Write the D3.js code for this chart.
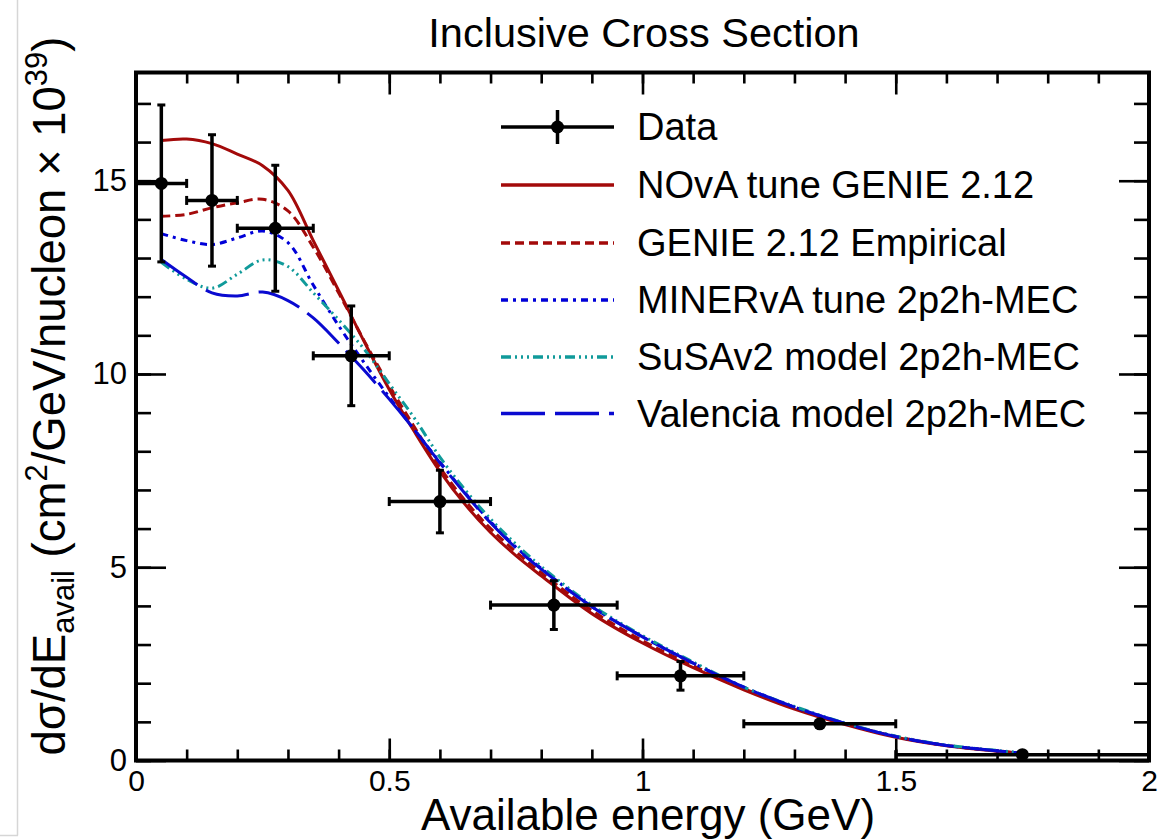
<!DOCTYPE html>
<html><head><meta charset="utf-8">
<script src="https://cdn.jsdelivr.net/npm/d3@7"></script>
<style>
body{margin:0;background:#fff}
svg{display:block}
text{font-family:"Liberation Sans",Arial,Helvetica,sans-serif;fill:#000}
</style>
</head><body>
<svg id="c" width="1173" height="839"></svg>
<script>
// ---------------- data ----------------
const binLow  = [0, 0.1, 0.2, 0.35, 0.5, 0.7, 0.95, 1.2, 1.5];
const binHigh = [0.1, 0.2, 0.35, 0.5, 0.7, 0.95, 1.2, 1.5, 2.0];
const dataX   = [0.05, 0.15, 0.275, 0.425, 0.6, 0.825, 1.075, 1.35, 1.75];
const dataY   = [14.93, 14.49, 13.77, 10.47, 6.70, 4.02, 2.19, 0.95, 0.15];
const dataErr = [2.03, 1.70, 1.63, 1.29, 0.81, 0.63, 0.37, 0.10, 0.03];

const curveX = [0.05,0.1,0.15,0.2,0.25,0.3,0.35,0.4,0.45,0.5,0.55,0.6,0.65,0.7,0.75,0.8,0.9,1.0,1.1,1.2,1.3,1.4,1.5,1.6,1.75];
const novaTune    = [16.04,16.08,15.96,15.69,15.39,14.75,13.45,12.16,10.85,9.6,8.5,7.48,6.62,5.9,5.3,4.78,3.8,3.04,2.4,1.83,1.33,0.93,0.6,0.38,0.18];
const genieEmp    = [14.08,14.13,14.3,14.43,14.52,14.22,13.28,12.1,10.87,9.7,8.62,7.58,6.72,6.0,5.4,4.86,3.88,3.1,2.45,1.86,1.36,0.95,0.62,0.39,0.19];
const minervaTune = [13.63,13.45,13.35,13.52,13.7,13.4,12.3,11.25,10.3,9.4,8.55,7.72,6.92,6.18,5.52,4.97,3.98,3.2,2.52,1.9,1.38,0.96,0.62,0.39,0.19];
const susav2      = [12.89,12.45,12.22,12.58,12.95,12.78,12.1,11.4,10.65,9.75,8.85,7.85,7.0,6.25,5.6,5.02,4.02,3.23,2.55,1.9,1.4,0.97,0.63,0.4,0.2];
const valencia    = [12.96,12.5,12.1,12.02,12.12,11.9,11.45,10.8,10.1,9.35,8.55,7.7,6.9,6.15,5.5,4.95,3.98,3.2,2.52,1.9,1.38,0.96,0.62,0.39,0.19];

const seriesNames  = ["NOvA tune GENIE 2.12","GENIE 2.12 Empirical","MINERvA tune 2p2h-MEC","SuSAv2 model 2p2h-MEC","Valencia model 2p2h-MEC"];
const seriesValues = [novaTune, genieEmp, minervaTune, susav2, valencia];
const seriesColors = ["#a30a0a","#a30a0a","#0000d8","#109a9a","#0a0ad0"];
const seriesDash   = [null, "9,5", "7,5,3,5", "10,4,2,4,2,4,2,4", "44,10"];

const xMajor = [0, 0.5, 1, 1.5, 2];
const xTickLabels = ["0","0.5","1","1.5","2"];
const xMinor = d3.range(0, 2.0001, 0.1).map(v => +v.toFixed(2));
const yMajor = [0, 5, 10, 15];
const yTickLabels = ["0","5","10","15"];
const yMinor = d3.range(0, 18, 1);

// ---------------- layout ----------------
const L = 136, R = 1149, T = 72.5, B = 760.5;
const svg = d3.select("#c");
const x = d3.scaleLinear().domain([0, 2]).range([L, R]);
const y = d3.scaleLinear().domain([0, 17.8]).range([B, T]);

// faint page border at left
svg.append("line").attr("x1",17.5).attr("x2",17.5).attr("y1",0).attr("y2",835.5).attr("stroke","#d6d6d6").attr("stroke-width",1.5);
svg.append("line").attr("x1",0).attr("x2",18).attr("y1",835.5).attr("y2",835.5).attr("stroke","#d6d6d6").attr("stroke-width",1.5);

// title
svg.append("text").attr("x", 644).attr("y", 47).attr("text-anchor","middle")
  .style("font-size","41.5px").text("Inclusive Cross Section");

// axes (ticks inward)
function styleAxis(g){ g.select(".domain").remove(); g.selectAll("line").attr("stroke","#000").attr("stroke-width",2.6); }
const tickFmtX = (d,i) => xTickLabels[i];
svg.append("g").attr("transform",`translate(0,${B})`)
  .call(d3.axisBottom(x).tickValues(xMinor).tickSize(-11).tickFormat("")).call(styleAxis);
svg.append("g").attr("transform",`translate(0,${B})`)
  .call(d3.axisBottom(x).tickValues(xMajor).tickSize(-22).tickPadding(9).tickFormat(tickFmtX)).call(styleAxis)
  .selectAll("text").style("font-size","30px").attr("font-family",null);
svg.append("g").attr("transform",`translate(0,${T})`)
  .call(d3.axisTop(x).tickValues(xMinor).tickSize(-11).tickFormat("")).call(styleAxis);
svg.append("g").attr("transform",`translate(0,${T})`)
  .call(d3.axisTop(x).tickValues(xMajor).tickSize(-22).tickFormat("")).call(styleAxis);

svg.append("g").attr("transform",`translate(${L},0)`)
  .call(d3.axisLeft(y).tickValues(yMinor).tickSize(-15).tickFormat("")).call(styleAxis);
svg.append("g").attr("transform",`translate(${L},0)`)
  .call(d3.axisLeft(y).tickValues(yMajor).tickSize(-30).tickPadding(9).tickFormat((d,i)=>yTickLabels[i])).call(styleAxis)
  .selectAll("text").style("font-size","31px").attr("font-family",null);
svg.append("g").attr("transform",`translate(${R},0)`)
  .call(d3.axisRight(y).tickValues(yMinor).tickSize(-15).tickFormat("")).call(styleAxis);
svg.append("g").attr("transform",`translate(${R},0)`)
  .call(d3.axisRight(y).tickValues(yMajor).tickSize(-30).tickFormat("")).call(styleAxis);

svg.selectAll(".tick text").attr("fill","#000");

// frame
svg.append("rect").attr("x",L).attr("y",T).attr("width",R-L).attr("height",B-T)
  .attr("fill","none").attr("stroke","#000").attr("stroke-width",4);

// axis titles
svg.append("text").attr("x", 648).attr("y", 830).attr("text-anchor","middle")
  .style("font-size","44px").text("Available energy (GeV)");

const yt = svg.append("text").attr("transform","translate(65,396) rotate(-90)")
  .attr("text-anchor","middle").style("font-size","45.5px");
yt.append("tspan").text("dσ/dE");
yt.append("tspan").attr("dy","9").style("font-size","31px").text("avail");
yt.append("tspan").attr("dy","-9").text(" (cm");
yt.append("tspan").attr("dy","-18").style("font-size","31px").text("2");
yt.append("tspan").attr("dy","18").text("/GeV/nucleon × 10");
yt.append("tspan").attr("dy","-18").style("font-size","31px").text("39");
yt.append("tspan").attr("dy","18").text(")");

// curves
const line = d3.line().x(d => x(d[0])).y(d => y(d[1])).curve(d3.curveCatmullRom.alpha(0.5));
const cg = svg.append("g");
seriesValues.forEach((vals, i) => {
  cg.append("path").datum(curveX.map((cx, j) => [cx, vals[j]]))
    .attr("d", line).attr("fill","none").attr("stroke", seriesColors[i])
    .attr("stroke-width", 3).attr("stroke-dasharray", seriesDash[i]);
});

// data points
const dg = svg.append("g").attr("stroke","#000").attr("stroke-width",3.5);
dataX.forEach((dx, i) => {
  const cx = x(dx), cy = y(dataY[i]);
  const x0 = x(binLow[i]), x1 = x(binHigh[i]);
  const y0 = y(dataY[i] - dataErr[i]), y1 = y(dataY[i] + dataErr[i]);
  dg.append("line").attr("x1",x0).attr("x2",x1).attr("y1",cy).attr("y2",cy);
  dg.append("line").attr("x1",x0).attr("x2",x0).attr("y1",cy-4.5).attr("y2",cy+4.5).attr("stroke-width",3);
  dg.append("line").attr("x1",x1).attr("x2",x1).attr("y1",cy-4.5).attr("y2",cy+4.5).attr("stroke-width",3);
  if (y0 - y1 > 8) {
    dg.append("line").attr("x1",cx).attr("x2",cx).attr("y1",y0).attr("y2",y1);
    dg.append("line").attr("x1",cx-4).attr("x2",cx+4).attr("y1",y0).attr("y2",y0).attr("stroke-width",3);
    dg.append("line").attr("x1",cx-4).attr("x2",cx+4).attr("y1",y1).attr("y2",y1).attr("stroke-width",3);
  }
  dg.append("circle").attr("cx",cx).attr("cy",cy).attr("r",6.5).attr("fill","#000").attr("stroke","none");
});

// legend
const lg = svg.append("g");
const rowY = [127, 185, 243, 300, 357, 413.5];
const lx0 = 501, lx1 = 614, tx = 637;
const lfs = 38;
lg.append("line").attr("x1",lx0).attr("x2",lx1).attr("y1",rowY[0]).attr("y2",rowY[0]).attr("stroke","#000").attr("stroke-width",3.5);
lg.append("line").attr("x1",(lx0+lx1)/2).attr("x2",(lx0+lx1)/2).attr("y1",rowY[0]-17).attr("y2",rowY[0]+17).attr("stroke","#000").attr("stroke-width",3.5);
lg.append("circle").attr("cx",(lx0+lx1)/2).attr("cy",rowY[0]).attr("r",6.5).attr("fill","#000");
lg.append("text").attr("x",tx).attr("y",rowY[0]+13).style("font-size",lfs+"px").text("Data");
seriesNames.forEach((name, i) => {
  const ry = rowY[i+1];
  lg.append("line").attr("x1",lx0).attr("x2",lx1).attr("y1",ry).attr("y2",ry)
    .attr("stroke",seriesColors[i]).attr("stroke-width",3.5).attr("stroke-dasharray",seriesDash[i]);
  lg.append("text").attr("x",tx).attr("y",ry+13).style("font-size",lfs+"px").text(name);
});
</script>
</body></html>
